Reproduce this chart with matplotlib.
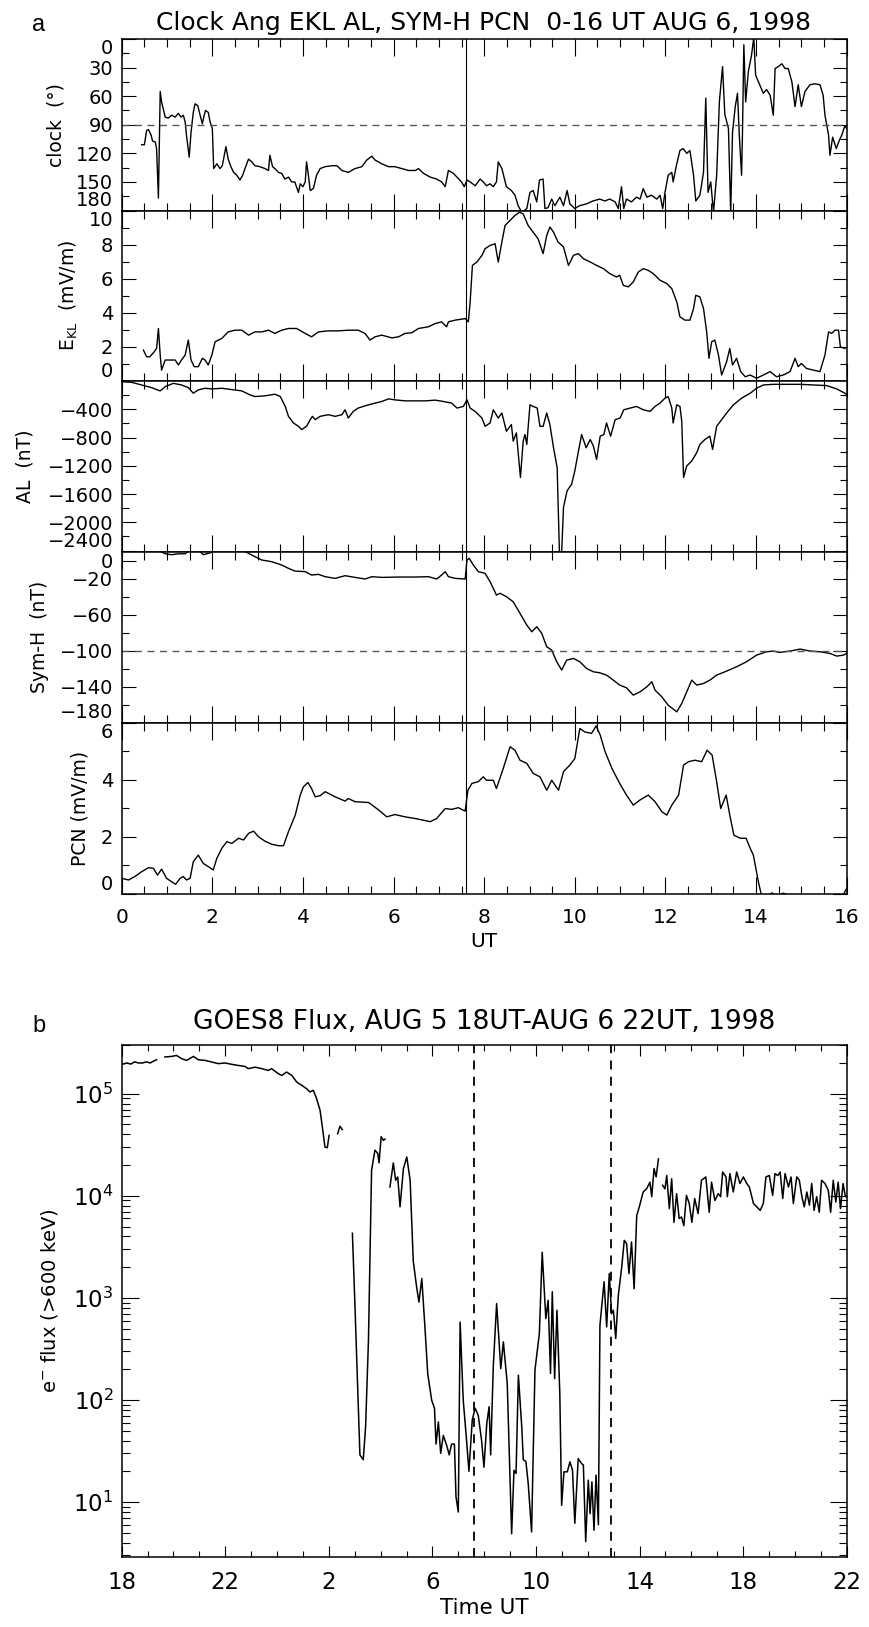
import matplotlib
matplotlib.use('Agg')
import matplotlib.pyplot as plt
from matplotlib.ticker import MultipleLocator, FixedLocator, LogLocator, NullFormatter, FuncFormatter
import numpy as np

plt.rcParams['font.family'] = ['DejaVu Sans']
plt.rcParams['mathtext.default'] = 'regular'

# ---- panel a data (hours UT, Aug 6 1998) ----
clock_t = [0.44, 0.50, 0.55, 0.59, 0.65, 0.68, 0.74, 0.77, 0.81, 0.85,
           0.88, 0.96, 1.03, 1.10, 1.18, 1.25, 1.31, 1.36, 1.40, 1.43,
           1.49, 1.53, 1.58, 1.62, 1.68, 1.73, 1.78, 1.82, 1.85, 1.91,
           1.95, 2.00, 2.03, 2.10, 2.17, 2.22, 2.30, 2.35, 2.41, 2.47,
           2.54, 2.61, 2.67, 2.72, 2.80, 2.87, 2.94, 3.05, 3.16, 3.24,
           3.27, 3.33, 3.38, 3.46, 3.53, 3.60, 3.68, 3.75, 3.82, 3.90,
           3.94, 4.00, 4.05, 4.08, 4.12, 4.16, 4.23, 4.30, 4.38, 4.49,
           4.64, 4.75, 4.86, 5.00, 5.15, 5.30, 5.41, 5.52, 5.59, 5.74,
           5.89, 6.03, 6.18, 6.33, 6.48, 6.55, 6.66, 6.81, 6.95, 7.06,
           7.14, 7.21, 7.32, 7.40, 7.50, 7.56, 7.62, 7.69, 7.80, 7.91,
           7.98, 8.05, 8.13, 8.20, 8.27, 8.31, 8.39, 8.49, 8.60, 8.68,
           8.75, 8.83, 8.94, 9.01, 9.08, 9.16, 9.22, 9.30, 9.34, 9.41,
           9.49, 9.56, 9.67, 9.75, 9.83, 9.89, 10.00, 10.10, 10.26, 10.40,
           10.55, 10.66, 10.77, 10.89, 10.96, 11.03, 11.08, 11.14, 11.25, 11.36,
           11.44, 11.51, 11.59, 11.69, 11.81, 11.88, 11.94, 11.99, 12.06, 12.14,
           12.17, 12.24, 12.32, 12.39, 12.47, 12.54, 12.62, 12.67, 12.76, 12.84,
           12.89, 12.94, 13.00, 13.06, 13.13, 13.19, 13.26, 13.31, 13.39, 13.44,
           13.48, 13.54, 13.59, 13.63, 13.68, 13.70, 13.73, 13.77, 13.83, 13.90,
           13.95, 13.99, 14.08, 14.16, 14.23, 14.31, 14.38, 14.42, 14.49, 14.57,
           14.64, 14.71, 14.79, 14.86, 14.93, 15.00, 15.08, 15.19, 15.30, 15.41,
           15.48, 15.52, 15.60, 15.63, 15.69, 15.77, 15.84, 15.89, 15.96, 16.00]
clock_deg = [111, 111, 96, 95, 101, 107, 108, 115, 167, 55,
             66, 82, 83, 80, 82, 78, 82, 80, 87, 101,
             124, 98, 77, 68, 70, 80, 89, 80, 75, 77,
             87, 94, 136, 131, 136, 133, 113, 126, 134, 140,
             143, 148, 143, 136, 126, 129, 133, 134, 136, 138,
             122, 134, 136, 140, 141, 147, 145, 150, 150, 161,
             152, 155, 150, 129, 143, 159, 157, 143, 136, 134,
             133, 133, 138, 140, 136, 134, 127, 123, 127, 131,
             134, 134, 136, 138, 138, 136, 141, 145, 147, 150,
             155, 138, 141, 145, 150, 155, 148, 150, 154, 147,
             150, 154, 152, 155, 150, 129, 136, 155, 159, 164,
             175, 182, 178, 161, 159, 171, 148, 147, 178, 177,
             168, 175, 166, 175, 159, 173, 178, 175, 173, 170,
             168, 170, 168, 171, 178, 155, 178, 168, 171, 166,
             168, 157, 166, 164, 168, 164, 178, 161, 143, 140,
             150, 133, 117, 115, 120, 117, 143, 170, 164, 140,
             62, 161, 150, 182, 143, 66, 29, 79, 94, 182,
             98, 71, 57, 101, 143, 98, 6, 66, 34, 17,
             -2, 38, 48, 57, 53, 59, 80, 31, 29, 26,
             31, 31, 45, 71, 48, 71, 55, 48, 47, 48,
             59, 80, 101, 122, 103, 115, 106, 101, 91, 94]

ekl_t = [0.48, 0.55, 0.62, 0.72, 0.77, 0.81, 0.85, 0.88, 0.96, 1.07,
         1.18, 1.25, 1.32, 1.40, 1.47, 1.53, 1.60, 1.69, 1.78, 1.84,
         1.91, 1.99, 2.06, 2.21, 2.35, 2.50, 2.65, 2.80, 2.94, 3.09,
         3.24, 3.38, 3.53, 3.68, 3.86, 4.05, 4.19, 4.34, 4.56, 4.78,
         5.00, 5.22, 5.37, 5.48, 5.59, 5.74, 5.96, 6.11, 6.25, 6.40,
         6.55, 6.77, 6.92, 7.06, 7.17, 7.21, 7.36, 7.58, 7.65, 7.69,
         7.74, 7.84, 7.95, 8.02, 8.13, 8.24, 8.31, 8.39, 8.46, 8.57,
         8.68, 8.78, 8.86, 8.97, 9.08, 9.19, 9.30, 9.38, 9.45, 9.53,
         9.63, 9.75, 9.86, 9.97, 10.08, 10.19, 10.34, 10.48, 10.63, 10.77,
         10.92, 10.99, 11.07, 11.18, 11.29, 11.40, 11.51, 11.62, 11.73, 11.88,
         12.03, 12.14, 12.25, 12.32, 12.43, 12.54, 12.62, 12.67, 12.76, 12.84,
         12.91, 12.96, 13.02, 13.09, 13.17, 13.24, 13.35, 13.42, 13.48, 13.57,
         13.66, 13.76, 13.87, 14.01, 14.16, 14.31, 14.45, 14.60, 14.75, 14.86,
         14.93, 15.00, 15.11, 15.26, 15.41, 15.52, 15.60, 15.67, 15.74, 15.82,
         15.86, 15.96]
ekl_mv = [1.81, 1.42, 1.42, 1.72, 1.91, 3.08, 1.52, 0.64, 1.23, 1.23,
          1.23, 0.94, 1.23, 1.52, 2.40, 1.23, 0.84, 0.84, 1.33, 1.23,
          0.94, 1.52, 2.30, 2.50, 2.88, 2.98, 2.98, 2.69, 2.88, 2.88,
          2.98, 2.79, 2.98, 3.08, 3.08, 2.79, 2.59, 2.88, 2.94, 2.94,
          2.98, 2.98, 2.79, 2.40, 2.59, 2.69, 2.53, 2.59, 2.79, 2.83,
          3.08, 3.18, 3.37, 3.47, 3.18, 3.47, 3.57, 3.66, 3.47, 4.64,
          6.78, 6.98, 7.37, 7.76, 7.95, 8.05, 6.98, 8.15, 9.12, 9.42,
          9.71, 9.90, 9.80, 9.12, 8.73, 8.34, 7.47, 8.54, 9.03, 8.73,
          8.15, 7.86, 6.78, 7.37, 7.47, 7.17, 6.98, 6.78, 6.59, 6.30,
          6.10, 6.20, 5.61, 5.52, 5.81, 6.39, 6.59, 6.49, 6.30, 5.91,
          5.71, 5.42, 4.64, 3.76, 3.57, 3.57, 4.25, 5.03, 4.93, 4.25,
          2.88, 1.33, 2.30, 2.40, 1.52, 0.35, 1.13, 1.91, 0.94, 1.33,
          0.55, 0.25, 0.35, 0.16, 0.35, 0.55, 0.25, 0.35, 0.55, 1.33,
          0.84, 1.03, 0.74, 0.64, 0.55, 1.52, 2.88, 2.79, 2.98, 2.98,
          2.00, 1.91]

al_t = [0.00, 0.22, 0.44, 0.66, 0.85, 0.96, 1.14, 1.32, 1.47, 1.58,
        1.69, 1.84, 1.99, 2.21, 2.43, 2.65, 2.83, 2.94, 3.16, 3.38,
        3.50, 3.61, 3.68, 3.79, 3.90, 3.97, 4.08, 4.16, 4.21, 4.27,
        4.38, 4.56, 4.71, 4.86, 4.93, 5.00, 5.11, 5.22, 5.33, 5.45,
        5.59, 5.74, 5.89, 6.03, 6.25, 6.48, 6.70, 6.92, 7.10, 7.28,
        7.40, 7.54, 7.62, 7.69, 7.80, 7.95, 8.02, 8.13, 8.20, 8.31,
        8.39, 8.49, 8.60, 8.64, 8.71, 8.80, 8.86, 8.90, 8.94, 9.01,
        9.08, 9.17, 9.23, 9.30, 9.38, 9.45, 9.53, 9.61, 9.66, 9.71,
        9.75, 9.83, 9.93, 10.00, 10.08, 10.15, 10.25, 10.34, 10.41, 10.48,
        10.56, 10.64, 10.70, 10.79, 10.89, 11.00, 11.08, 11.22, 11.36, 11.51,
        11.66, 11.77, 11.88, 11.99, 12.06, 12.14, 12.17, 12.25, 12.32, 12.36,
        12.40, 12.47, 12.58, 12.69, 12.76, 12.87, 12.98, 13.04, 13.13, 13.24,
        13.35, 13.50, 13.68, 13.87, 14.01, 14.16, 14.38, 14.67, 14.97, 15.26,
        15.56, 15.78, 15.96, 16.00]
al_nt = [-10, -19, -56, -94, -140, -80, -33, -56, -94, -173,
         -126, -103, -112, -103, -122, -140, -196, -220, -210, -187,
         -220, -360, -500, -594, -641, -688, -641, -547, -500, -547,
         -500, -477, -500, -477, -407, -524, -430, -383, -360, -337,
         -313, -290, -253, -267, -281, -281, -281, -271, -290, -313,
         -383, -360, -267, -383, -430, -524, -641, -594, -407, -524,
         -453, -711, -617, -851, -734, -1366, -851, -758, -898, -337,
         -360, -383, -641, -641, -453, -617, -945, -1226, -2420, -2420,
         -1787, -1553, -1460, -1272, -992, -758, -945, -828, -921, -1109,
         -781, -758, -594, -781, -547, -524, -407, -383, -360, -407,
         -430, -360, -313, -243, -220, -383, -594, -337, -360, -571,
         -1366, -1202, -1132, -1015, -898, -828, -781, -968, -641, -547,
         -453, -337, -243, -173, -103, -56, -47, -47, -47, -56,
         -65, -112, -173, -190]

symh_t = [0.00, 0.40, 0.80, 0.96, 1.10, 1.25, 1.40, 1.50, 1.70, 1.80,
          1.95, 2.05, 2.50, 2.70, 2.80, 2.94, 3.09, 3.31, 3.53, 3.68,
          3.82, 4.05, 4.19, 4.34, 4.49, 4.71, 4.93, 5.15, 5.37, 5.52,
          5.74, 6.11, 6.48, 6.77, 6.95, 7.06, 7.14, 7.21, 7.36, 7.58,
          7.62, 7.67, 7.76, 7.87, 8.02, 8.13, 8.20, 8.27, 8.35, 8.49,
          8.64, 8.79, 8.94, 9.05, 9.16, 9.27, 9.38, 9.49, 9.60, 9.71,
          9.82, 9.97, 10.11, 10.26, 10.41, 10.55, 10.70, 10.85, 10.99, 11.14,
          11.29, 11.44, 11.59, 11.70, 11.77, 11.92, 12.06, 12.25, 12.36, 12.47,
          12.58, 12.69, 12.84, 12.98, 13.13, 13.35, 13.57, 13.79, 14.01, 14.23,
          14.38, 14.52, 14.75, 14.97, 15.19, 15.41, 15.63, 15.78, 15.93, 16.00]
symh_nt = [14, 13, 12, 8, 7, 8, 8, 12, 12, 7,
           9, 12, 13, 11, 8.5, 4.8, 1.1, -0.8, -4.5, -8.2,
           -11.2, -11.9, -15.7, -14.9, -17.5, -19.4, -16.4, -18.3, -20.1, -17.5,
           -18.3, -17.9, -17.9, -17.5, -20.1, -15.7, -11.9, -17.5, -19.4, -20.1,
           1.1, 2.9, -4.5, -11.9, -13.8, -23.1, -30.5, -38.0, -36.0, -39.8,
           -45.4, -58.4, -71.4, -78.9, -73.3, -80.7, -95.6, -99.3, -112.3, -121.6,
           -110.5, -108.6, -112.3, -119.8, -123.5, -124.6, -127.2, -132.8, -138.3, -141.3,
           -149.5, -145.8, -140.2, -134.6, -143.9, -151.4, -160.7, -168.1, -158.8, -145.8,
           -132.8, -138.3, -136.5, -132.8, -127.2, -122.7, -117.9, -112.3, -104.9, -101.2,
           -100.4, -101.9, -100.4, -98.2, -100.4, -101.2, -103.0, -106.0, -104.9, -103.0]

pcn_t = [0.00, 0.15, 0.29, 0.44, 0.59, 0.70, 0.79, 0.88, 0.99, 1.10,
         1.19, 1.29, 1.36, 1.43, 1.51, 1.58, 1.69, 1.80, 1.91, 2.02,
         2.10, 2.21, 2.32, 2.43, 2.58, 2.69, 2.80, 2.91, 3.02, 3.16,
         3.31, 3.46, 3.57, 3.68, 3.83, 3.94, 4.01, 4.11, 4.19, 4.27,
         4.38, 4.49, 4.71, 4.93, 5.00, 5.15, 5.45, 5.67, 5.85, 6.03,
         6.25, 6.48, 6.81, 6.95, 7.14, 7.28, 7.43, 7.58, 7.64, 7.73,
         7.87, 7.98, 8.05, 8.20, 8.27, 8.42, 8.57, 8.68, 8.79, 8.94,
         9.08, 9.23, 9.38, 9.49, 9.64, 9.75, 9.89, 10.00, 10.11, 10.22,
         10.37, 10.47, 10.56, 10.67, 10.82, 10.99, 11.14, 11.29, 11.44, 11.62,
         11.77, 11.92, 12.03, 12.14, 12.29, 12.40, 12.51, 12.65, 12.80, 12.92,
         13.03, 13.13, 13.22, 13.34, 13.42, 13.51, 13.65, 13.78, 13.87, 13.94,
         14.05, 14.12, 14.25, 14.35, 14.45, 14.60, 14.80, 15.00, 15.30, 15.60,
         15.90, 16.00]
pcn_mv = [0.55, 0.49, 0.61, 0.78, 0.92, 0.90, 0.66, 0.87, 0.55, 0.43,
          0.34, 0.55, 0.61, 0.49, 0.55, 1.13, 1.36, 1.07, 0.96, 0.84,
          1.25, 1.60, 1.83, 1.77, 1.95, 1.89, 2.12, 2.20, 2.00, 1.85,
          1.74, 1.69, 1.69, 2.18, 2.76, 3.46, 3.75, 3.90, 3.69, 3.40,
          3.44, 3.58, 3.40, 3.25, 3.34, 3.23, 3.20, 2.94, 2.70, 2.78,
          2.70, 2.64, 2.53, 2.64, 2.99, 2.96, 3.02, 2.90, 3.63, 3.87,
          3.93, 4.10, 3.98, 3.98, 3.69, 4.39, 5.15, 5.03, 4.68, 4.57,
          4.22, 4.10, 3.63, 3.98, 3.63, 4.28, 4.51, 4.74, 5.79, 5.67,
          5.62, 5.88, 5.56, 4.97, 4.39, 3.87, 3.46, 3.11, 3.29, 3.46,
          3.23, 2.88, 2.76, 3.11, 3.46, 4.51, 4.63, 4.68, 4.63, 5.03,
          4.86, 3.93, 2.99, 3.46, 2.76, 2.06, 1.95, 1.95, 1.60, 1.36,
          0.43, -0.05, -0.10, 0.04, -0.08, 0.03, -0.10, -0.12, -0.15, -0.12,
          -0.10, 0.20]

onset_ut = 7.6

# ---- panel b data (hours from Aug 5 00 UT, nan = data gap) ----
nan = np.nan
goes_t = [18.05, 18.20, 18.35, 18.50, 18.65, 18.80, 18.95, 19.10, 19.25, 19.35,
          nan,
          19.67, 19.93, 20.12, 20.32, 20.51, 20.77, 20.96, 21.22, 21.48, 21.73,
          21.99, 22.25, 22.51, 22.76, 22.89, 23.15, 23.41, 23.66, 23.79, 24.05,
          24.18, 24.37, 24.57, 24.76, 24.95, 25.14, 25.27, 25.40, 25.53, 25.66,
          25.75, 25.85, 25.94, 26.01,
          nan,
          26.34, 26.43, 26.52,
          nan,
          26.91, 27.01, 27.14, 27.20, 27.33, 27.42, 27.53, 27.65, 27.78, 27.89,
          27.94, 28.02, 28.11, 28.17,
          nan,
          28.36, 28.49, 28.58, 28.66, 28.75, 28.88, 29.01, 29.14, 29.26, 29.39,
          29.48, 29.59, 29.71, 29.82, 29.97, 30.08, 30.14, 30.23, 30.32, 30.42,
          30.55, 30.65, 30.74, 30.85, 30.91, 31.00, 31.07, 31.19, 31.32, 31.41,
          31.54, 31.65, 31.77, 31.90, 31.99, 32.10, 32.19, 32.25, 32.35, 32.48,
          32.64, 32.74, 32.89, 33.06, 33.15, 33.23, 33.32, 33.45, 33.51, 33.61,
          33.70, 33.83, 33.96, 34.13, 34.24, 34.38, 34.47, 34.56, 34.63, 34.72,
          34.81, 34.92, 34.99, 35.08, 35.21, 35.31, 35.41, 35.50, 35.63, 35.76,
          35.83, 35.92, 36.02, 36.09, 36.16, 36.24, 36.32, 36.41, 36.47, 36.63,
          36.73, 36.83, 36.92, 36.99, 37.08, 37.18, 37.31, 37.41, 37.50, 37.59,
          37.69, 37.79, 37.89, 37.99, 38.14, 38.27, 38.40, 38.47, 38.56, 38.64,
          38.73,
          nan,
          38.89, 38.98, 39.05, 39.15, 39.24, 39.33, 39.43, 39.53, 39.62, 39.71,
          39.81, 39.92, 40.02, 40.13, 40.26, 40.39, 40.56, 40.69, 40.78, 40.91,
          41.04, 41.13, 41.21, 41.34, 41.39, 41.49, 41.62, 41.75, 41.88, 42.01,
          42.14, 42.24, 42.40, 42.66, 42.78, 42.88, 43.01, 43.14, 43.23, 43.34,
          43.43, 43.53, 43.62, 43.75, 43.85, 43.94, 44.07, 44.17, 44.27, 44.36,
          44.46, 44.56, 44.65, 44.74, 44.84, 44.94, 45.03, 45.16, 45.29, 45.38,
          45.48, 45.58, 45.67, 45.76, 45.86, 45.95, 46.00]
goes_flux = [1.95e5, 2.0e5, 1.95e5, 2.05e5, 2.0e5, 2.0e5, 2.05e5, 2.0e5, 2.1e5, 2.15e5,
             nan,
             2.29e5, 2.32e5, 2.37e5, 2.2e5, 2.12e5, 2.32e5, 2.15e5, 2.12e5, 2.04e5, 1.97e5,
             2.0e5, 1.94e5, 1.89e5, 1.85e5, 1.76e5, 1.82e5, 1.76e5, 1.69e5, 1.76e5, 1.57e5,
             1.51e5, 1.63e5, 1.51e5, 1.3e5, 1.21e5, 1.12e5, 1.04e5, 1.08e5, 8.9e4, 6.9e4,
             4.7e4, 3.0e4, 2.96e4, 3.9e4,
             nan,
             4.05e4, 4.8e4, 4.45e4,
             nan,
             4.3e3, 820, 86, 29, 26, 55, 385, 1.78e4, 2.8e4, 2.6e4,
             2.1e4, 3.8e4, 3.5e4, 3.6e4,
             nan,
             1.22e4, 2.1e4, 1.42e4, 1.53e4, 7.8e3, 1.85e4, 2.4e4, 1.42e4, 2.3e3, 1.28e3,
             910, 1550, 520, 180, 100, 83, 37, 61, 30, 45,
             36, 29, 37, 37, 11.3, 8.0, 580, 100, 40, 20,
             64, 83, 71, 40, 22, 59, 86, 29, 211, 880,
             203, 371, 145, 4.9, 20.5, 19.1, 175, 55, 26, 25,
             15.2, 5.1, 196, 448, 2800, 628, 948, 182, 1150, 162,
             757, 116, 9.3, 19.8, 19.8, 24.8, 20.6, 6.2, 26.7, 23.9,
             23, 4.1, 16.4, 7.7, 15.8, 5.3, 18.4, 6.0, 540, 1440,
             520, 1730, 700, 757, 400, 1060, 2000, 3660, 3400, 1730,
             3530, 1230, 6400, 7800, 10900, 11700, 13600, 9800, 18500, 15300,
             23000,
             nan,
             12700, 11700, 15800, 7500, 14700, 5500, 10500, 6000, 6200, 5100,
             10100, 8400, 5500, 9400, 6700, 14200, 15300, 6900, 13600, 9000,
             10500, 9800, 17100, 15300, 9800, 16500, 10900, 17100, 13200, 15300,
             13200, 12200, 8400, 7200, 8400, 15300, 15800, 10100, 16500, 15800,
             17100, 9400, 16500, 12200, 15300, 8400, 15300, 14200, 9800, 7800,
             10900, 8100, 13200, 7200, 9800, 6900, 14200, 13200, 11300, 6900,
             14200, 8700, 13600, 7500, 13200, 9800, 10000]
goes_marks = [31.6, 36.9]   # 7.6 UT and 12.9 UT on Aug 6

W, H = 870, 1627


def box(x0, y0, x1, y1):
    return [x0 / W, 1 - y1 / H, (x1 - x0) / W, (y1 - y0) / H]


fig = plt.figure(figsize=(W / 100, H / 100), dpi=100)

edges = [39, 210.5, 381, 552, 722.5, 894]
axs = [fig.add_axes(box(121.7, edges[i], 846.7, edges[i + 1])) for i in range(5)]

series = [(clock_t, clock_deg), (ekl_t, ekl_mv), (al_t, al_nt), (symh_t, symh_nt), (pcn_t, pcn_mv)]
ylims = [(180, 0), (0, 10), (-2420, 0), (-180, 10), (0, 6)]
majors = [[0, 30, 60, 90, 120, 150, 180], [0, 2, 4, 6, 8, 10],
          [-2400, -2000, -1600, -1200, -800, -400], [-180, -140, -100, -60, -20, 0], [0, 2, 4, 6]]
minors = [[15, 45, 75, 105, 135, 165], [1, 3, 5, 7, 9],
          [-2200, -1800, -1400, -1000, -600, -200], [-160, -120, -80, -40], [1, 3, 5]]
ylabels = ['clock  (°)', 'E$_{KL}$  (mV/m)', 'AL  (nT)', 'Sym-H  (nT)', 'PCN (mV/m)']
label_x = [-0.091, -0.073, -0.133, -0.114, -0.057]

for i, ax in enumerate(axs):
    t, v = series[i]
    ax.plot(t, v, color='k', lw=1.0)
    ax.axvline(onset_ut, color='k', lw=0.8)
    ax.set_xlim(0, 16)
    ax.set_ylim(*ylims[i])
    ax.xaxis.set_major_locator(MultipleLocator(2))
    ax.xaxis.set_minor_locator(MultipleLocator(0.5))
    ax.yaxis.set_major_locator(FixedLocator(majors[i]))
    ax.yaxis.set_minor_locator(FixedLocator(minors[i]))
    ax.tick_params(which='both', direction='in', top=True, right=True, width=0.8)
    ax.tick_params(axis='x', which='major', length=12)
    ax.tick_params(axis='x', which='minor', length=6)
    ax.tick_params(axis='y', which='major', length=10, labelsize=14, pad=6)
    ax.tick_params(axis='y', which='minor', length=5)
    for s in ax.spines.values():
        s.set_linewidth(1.1)
    ax.set_ylabel(ylabels[i], fontsize=13.5, va='center')
    ax.yaxis.set_label_coords(label_x[i], 0.5)
    if i < 4:
        ax.tick_params(axis='x', labelbottom=False)
    else:
        ax.tick_params(axis='x', labelsize=14.5, pad=10)
        ax.set_xlabel('UT', fontsize=14.5, labelpad=4)

# end labels sit inside the panel, as in the original
for i, ax in enumerate(axs):
    for tk, val in zip(ax.yaxis.get_major_ticks(), majors[i]):
        if val == ylims[i][1]:
            tk.label1.set_verticalalignment('top')
        elif val == ylims[i][0] or (i == 2 and val == -2400):
            tk.label1.set_verticalalignment('bottom')

axs[0].axhline(90, color='#555555', lw=1.0, ls=(0, (5, 4)))
axs[3].axhline(-100, color='#555555', lw=1.0, ls=(0, (5, 4)))

fig.text(484 / W, 1 - 23 / H, 'Clock Ang EKL AL, SYM-H PCN  0-16 UT AUG 6, 1998',
         ha='center', va='center', fontsize=18)
fig.text(39 / W, 1 - 25 / H, 'a', ha='center', va='center', fontsize=17, family='Liberation Sans')

# ---- panel b ----
bx = fig.add_axes(box(121.7, 1045, 846.7, 1557))
bx.plot(goes_t, goes_flux, color='k', lw=1.1)
for xm in goes_marks:
    bx.axvline(xm, color='k', lw=1.3, ls=(0, (5, 4)))
bx.set_yscale('log')
bx.set_xlim(18, 46)
bx.set_ylim(2.9, 3.0e5)
bx.xaxis.set_major_locator(FixedLocator(np.arange(18, 47, 4)))
bx.xaxis.set_minor_locator(MultipleLocator(1))
bx.xaxis.set_major_formatter(FuncFormatter(lambda v, p: '%d' % (int(round(v)) % 24)))
bx.yaxis.set_major_locator(LogLocator(base=10, numticks=10))
bx.yaxis.set_minor_locator(LogLocator(base=10, subs=np.arange(2, 10), numticks=10))
bx.yaxis.set_minor_formatter(NullFormatter())
bx.tick_params(which='both', direction='in', top=True, right=True, width=0.8)
bx.tick_params(axis='x', which='major', length=8, labelsize=16.5, pad=10)
bx.tick_params(axis='x', which='minor', length=4)
bx.tick_params(axis='y', which='major', length=12, labelsize=16.5, pad=6)
bx.tick_params(axis='y', which='minor', length=6)
for s in bx.spines.values():
    s.set_linewidth(1.1)
bx.set_xlabel('Time UT', fontsize=15.5, labelpad=3)
bx.set_ylabel('e$^{-}$ flux (>600 keV)', fontsize=14, va='center')
bx.yaxis.set_label_coords(-0.099, 0.5)

fig.text(484 / W, 1 - 1022 / H, 'GOES8 Flux, AUG 5 18UT-AUG 6 22UT, 1998',
         ha='center', va='center', fontsize=19)
fig.text(39 / W, 1 - 1026 / H, 'b', ha='center', va='center', fontsize=17, family='Liberation Sans')

fig.savefig('out.png', dpi=100)
